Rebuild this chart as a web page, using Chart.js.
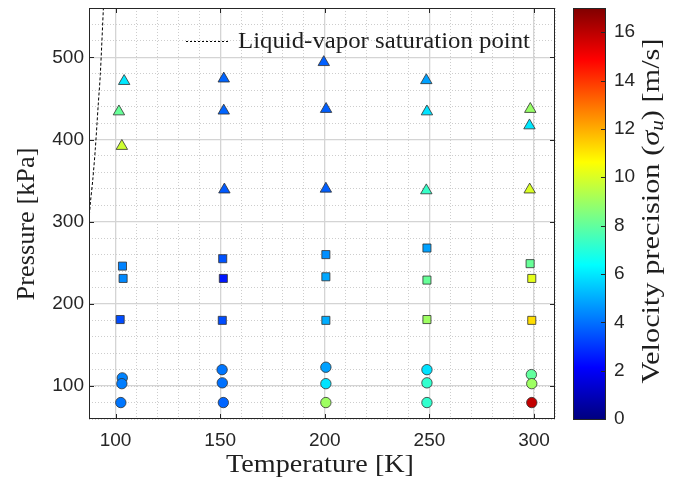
<!DOCTYPE html>
<html>
<head>
<meta charset="utf-8">
<script src="https://cdn.jsdelivr.net/npm/chart.js@4.4.0/dist/chart.umd.min.js"></script>
<style>
  html, body { margin: 0; padding: 0; background: #fff; }
</style>
</head>
<body>
<canvas id="chart" width="676" height="481"></canvas>
<script>
/* axis ranges and tick labels */
const tempRange     = [87.3, 310];
const pressureRange = [60, 560];
const sigmaRange    = [0, 17];
const tempTicks     = [100, 150, 200, 250, 300];
const pressureTicks = [100, 200, 300, 400, 500];
const sigmaTicks    = [0, 2, 4, 6, 8, 10, 12, 14, 16];

/* circles */
const circleT     = [103.2, 103.0, 102.5, 150.9, 151.0, 151.5, 200.5, 200.5, 200.5, 248.8, 248.8, 248.8, 298.7, 298.9, 298.9];
const circleP     = [110, 103, 80, 120, 104, 80, 123, 103, 80, 120, 104, 80, 114, 103, 80];
const circleSigma = [4.3, 4.2, 4.1, 4.1, 4.0, 3.8, 4.8, 5.9, 9.0, 5.9, 7.2, 7.2, 8.0, 9.0, 15.9];

/* squares */
const squareT     = [103.3, 103.6, 102.2, 151.2, 151.5, 151.0, 200.5, 200.5, 200.5, 248.8, 248.8, 248.8, 298.1, 298.9, 298.9];
const squareP     = [246, 231, 181, 255, 231, 180, 260, 233, 180, 268, 229, 181, 249, 231, 180];
const squareSigma = [4.3, 4.4, 3.4, 3.5, 2.5, 3.4, 4.5, 4.9, 5.0, 4.8, 8.1, 9.0, 8.1, 10.2, 11.2];

/* triangles */
const triangleT     = [104.1, 101.6, 103.0, 151.7, 151.7, 152.0, 199.5, 200.6, 200.5, 248.5, 248.8, 248.5, 298.2, 297.8, 297.9];
const triangleP     = [471, 434, 392, 474, 435, 339, 494, 437, 340, 472, 434, 338, 437, 417, 339];
const triangleSigma = [6.0, 8.1, 9.8, 3.8, 3.8, 3.6, 3.7, 3.7, 3.7, 4.8, 5.9, 7.3, 8.9, 6.0, 10.0];

/* liquid-vapor saturation curve */
const satT = [87.1, 88.0, 89.1, 90.3, 91.7, 92.7, 94.2];
const satP = [296, 324, 351, 388, 442, 479, 561];

const satLabel = "Liquid-vapor saturation point";
const xTitle   = "Temperature [K]";
const yTitle   = "Pressure [kPa]";

const serif = '"Liberation Serif", "Times New Roman", serif';
const sans  = '"Liberation Sans", Arial, sans-serif';
const axisInk = "#262626";

/* MATLAB jet colormap */
function jetRGB(t){
  t = Math.min(1, Math.max(0, t));
  const f = c => Math.round(255 * Math.min(1, Math.max(0, 1.5 - Math.abs(4 * t - c))));
  return [f(3), f(2), f(1)];
}
function jet(v){
  const [r, g, b] = jetRGB((v - sigmaRange[0]) / (sigmaRange[1] - sigmaRange[0]));
  return `rgb(${r},${g},${b})`;
}

function pts(xs, ys){ return xs.map((x, i) => ({x, y: ys[i]})); }

function markerSet(xs, ys, sig, style, r){
  return {
    type: "scatter",
    data: pts(xs, ys),
    pointStyle: style,
    pointRadius: r,
    pointHoverRadius: r,
    pointBackgroundColor: sig.map(jet),
    pointBorderColor: "#303030",
    pointBorderWidth: 0.8
  };
}

// text made of runs (for the subscript), stretched to a width, rotated about its centre
function drawRuns(ctx, runs, cx, cy, rot, width){
  let total = 0;
  runs.forEach(p => { ctx.font = p.f; p.w = ctx.measureText(p.t).width; total += p.w; });
  ctx.save();
  ctx.translate(cx, cy);
  ctx.rotate(rot);
  ctx.scale(width ? width / total : 1, 1);
  ctx.fillStyle = "#1e1e1e";
  ctx.textBaseline = "middle";
  ctx.textAlign = "left";
  let x = -total / 2;
  runs.forEach(p => { ctx.font = p.f; ctx.fillText(p.t, x, p.dy || 0); x += p.w; });
  ctx.restore();
}

/* box, inward ticks, colorbar, titles, legend */
const matlabDecor = {
  id: "matlabDecor",
  afterDraw(chart){
    const {ctx, chartArea: a, scales} = chart;
    ctx.save();

    // axes box + inward ticks
    ctx.strokeStyle = axisInk;
    ctx.lineWidth = 1;
    ctx.setLineDash([]);
    ctx.strokeRect(a.left + 0.5, a.top + 0.5, a.right - a.left - 1, a.bottom - a.top - 1);
    const tl = 5;
    ctx.beginPath();
    scales.x.ticks.forEach(t => {
      const px = Math.round(scales.x.getPixelForValue(t.value)) + 0.5;
      ctx.moveTo(px, a.bottom); ctx.lineTo(px, a.bottom - tl);
      ctx.moveTo(px, a.top);    ctx.lineTo(px, a.top + tl);
    });
    scales.y.ticks.forEach(t => {
      const py = Math.round(scales.y.getPixelForValue(t.value)) + 0.5;
      ctx.moveTo(a.left, py);  ctx.lineTo(a.left + tl, py);
      ctx.moveTo(a.right, py); ctx.lineTo(a.right - tl, py);
    });
    ctx.stroke();

    // colorbar
    const cb = scales.cb;
    const cx0 = a.right + 18, cw = 32;
    const yTop = cb.getPixelForValue(sigmaRange[1]);
    const yBot = cb.getPixelForValue(sigmaRange[0]);
    const grad = ctx.createLinearGradient(0, yBot, 0, yTop);
    for (let i = 0; i <= 32; i++){
      const [r, g, b] = jetRGB(i / 32);
      grad.addColorStop(i / 32, `rgb(${r},${g},${b})`);
    }
    ctx.fillStyle = grad;
    ctx.fillRect(cx0, yTop, cw, yBot - yTop);
    ctx.strokeStyle = axisInk;
    ctx.strokeRect(cx0 + 0.5, Math.round(yTop) + 0.5, cw, Math.round(yBot - yTop));
    ctx.beginPath();
    cb.ticks.forEach(t => {
      const py = Math.round(cb.getPixelForValue(t.value)) + 0.5;
      ctx.moveTo(cx0 + cw, py); ctx.lineTo(cx0 + cw - 4, py);
    });
    ctx.stroke();

    // titles
    const fs = 26;
    const rm = `${fs}px ${serif}`;
    drawRuns(ctx, [
      {t: "Velocity precision (", f: rm},
      {t: "\u03C3", f: `italic ${fs}px ${serif}`},
      {t: "u", f: `italic ${Math.round(fs * 0.7)}px ${serif}`, dy: fs * 0.24},
      {t: ") [m/s]", f: rm}
    ], 652, 211, -Math.PI / 2, 345);
    drawRuns(ctx, [{t: yTitle, f: rm}], 27, 224, -Math.PI / 2, 153);
    drawRuns(ctx, [{t: xTitle, f: rm}], 320, 465, 0, 188);

    // legend inside the axes
    const ds = chart.data.datasets[0];
    const ly = a.top + 33.5;
    ctx.strokeStyle = ds.borderColor;
    ctx.lineWidth = 1;
    ctx.setLineDash([2, 2]);
    ctx.beginPath();
    ctx.moveTo(a.left + 97, ly); ctx.lineTo(a.left + 141, ly);
    ctx.stroke();
    ctx.setLineDash([]);
    drawRuns(ctx, [{t: ds.label, f: `23px ${serif}`}], a.left + 149 + 146, ly, 0, 292);

    ctx.restore();
  }
};

/* force box size and drop the label overhang padding */
function fixedSize(prop, v){
  return s => {
    s[prop] = v;
    s.paddingTop = s.paddingBottom = s.paddingLeft = s.paddingRight = 0;
  };
}

new Chart(document.getElementById("chart"), {
  data: {
    datasets: [
      {
        type: "line",
        label: satLabel,
        data: pts(satT, satP),
        borderColor: "#000",
        borderWidth: 1,
        borderDash: [3, 2],
        pointRadius: 0,
        fill: false,
        tension: 0.3
      },
      markerSet(circleT, circleP, circleSigma, "circle", 5.2),
      markerSet(squareT, squareP, squareSigma, "rect", 5.7),
      markerSet(triangleT, triangleP, triangleSigma, "triangle", 6.6)
    ]
  },
  options: {
    responsive: false,
    animation: false,
    layout: { padding: { top: 8, left: 0, right: 0, bottom: 0 } },
    plugins: { legend: { display: false }, tooltip: { enabled: false } },
    scales: {
      xm: {
        type: "linear", position: "bottom",
        min: tempRange[0], max: tempRange[1],
        ticks: { display: false, stepSize: 10 },
        grid: { color: "#cdcdcd", lineWidth: 1, drawTicks: false },
        border: { display: false, dash: [1, 2] },
        afterFit: fixedSize("height", 0)
      },
      ym: {
        type: "linear", position: "left",
        min: pressureRange[0], max: pressureRange[1],
        ticks: { display: false, stepSize: 20 },
        grid: { color: "#cdcdcd", lineWidth: 1, drawTicks: false },
        border: { display: false, dash: [1, 2] },
        afterFit: fixedSize("width", 0)
      },
      x: {
        type: "linear", position: "bottom",
        min: tempRange[0], max: tempRange[1],
        afterBuildTicks: s => { s.ticks = tempTicks.map(v => ({value: v})); },
        ticks: { color: axisInk, font: { family: sans, size: 19 }, padding: 10 },
        grid: { color: "#d4d4d4", lineWidth: 1.3, drawTicks: false },
        border: { display: false },
        afterFit: fixedSize("height", 62)
      },
      y: {
        type: "linear", position: "left",
        min: pressureRange[0], max: pressureRange[1],
        afterBuildTicks: s => { s.ticks = pressureTicks.map(v => ({value: v})); },
        ticks: { color: axisInk, font: { family: sans, size: 19 }, padding: 5 },
        grid: { color: "#d4d4d4", lineWidth: 1.3, drawTicks: false },
        border: { display: false },
        afterFit: fixedSize("width", 89)
      },
      cb: {
        type: "linear", position: "right",
        min: sigmaRange[0], max: sigmaRange[1],
        afterBuildTicks: s => { s.ticks = sigmaTicks.map(v => ({value: v})); },
        ticks: { color: axisInk, font: { family: sans, size: 19 }, padding: 59 },
        grid: { display: false, drawTicks: false },
        border: { display: false },
        afterFit: fixedSize("width", 121)
      }
    }
  },
  plugins: [matlabDecor]
});
</script>
</body>
</html>
